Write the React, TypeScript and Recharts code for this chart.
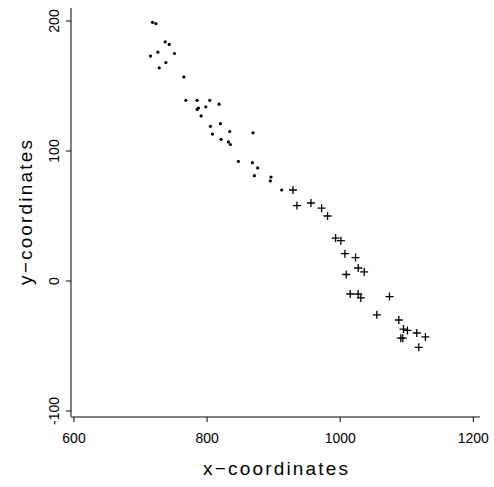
import { ScatterChart, Scatter, XAxis, YAxis } from 'recharts';

// first group (drawn as small dots)
const dotX = [
  718, 723, 737, 743, 726, 715, 751, 738, 728, 765, 768, 785, 804, 785, 787, 798,
  818, 791, 805, 820, 808, 834, 869, 821, 832, 835, 847, 868, 876, 871, 896, 895, 912,
];
const dotY = [
  199, 198, 184, 182, 176, 173, 175, 168, 164, 157, 139, 139, 139, 132, 133, 134,
  136, 127, 119, 121, 113, 115, 114, 109, 107, 105, 92, 91, 87, 81, 80, 77, 70,
];

// second group (drawn as crosses)
const plusX = [
  929, 935, 956, 972, 981, 993, 1001, 1007, 1023, 1027, 1036, 1009, 1015, 1027, 1031,
  1074, 1055, 1088, 1095, 1101, 1115, 1128, 1091, 1094, 1118,
];
const plusY = [
  70, 58, 60, 56, 50, 33, 31, 21, 18, 10, 7, 5, -10, -10, -13,
  -12, -26, -30, -37, -38, -40, -43, -44, -44, -51,
];

const xTicks = [600, 800, 1000, 1200];
const yTicks = [-100, 0, 100, 200];

const dots = dotX.map((x, i) => ({ x, y: dotY[i] }));
const pluses = plusX.map((x, i) => ({ x, y: plusY[i] }));

const FONT = '"Liberation Sans", Arial, sans-serif';

function DotShape(props: any) {
  return <circle cx={props.cx} cy={props.cy} r={1.6} fill="#000" />;
}

function PlusShape(props: any) {
  const { cx, cy } = props;
  const s = 4;
  return (
    <path
      d={`M${cx - s},${cy}H${cx + s}M${cx},${cy - s}V${cy + s}`}
      stroke="#000"
      strokeWidth={1.3}
      fill="none"
    />
  );
}

function YTick(props: any) {
  const { x, y, payload } = props;
  const bx = x - 5;
  return (
    <text
      x={bx}
      y={y}
      transform={`rotate(-90, ${bx}, ${y})`}
      textAnchor="middle"
      fontSize={14}
      fontFamily={FONT}
      fill="#000"
    >
      {payload.value}
    </text>
  );
}

function XTitle(props: any) {
  const vb = props.viewBox;
  return (
    <text
      x={vb.x + vb.width / 2}
      y={475}
      textAnchor="middle"
      fontSize={19}
      fontFamily={FONT}
      fill="#000"
      textLength={145}
    >
      x−coordinates
    </text>
  );
}

function YTitle(props: any) {
  const vb = props.viewBox;
  const cy = vb.y + vb.height / 2;
  const bx = 32;
  return (
    <text
      x={bx}
      y={cy}
      transform={`rotate(-90, ${bx}, ${cy})`}
      textAnchor="middle"
      fontSize={19}
      fontFamily={FONT}
      fill="#000"
      textLength={145}
    >
      y−coordinates
    </text>
  );
}

export default function App() {
  return (
    <div style={{ position: 'absolute', top: 0, left: 0, background: '#fff' }}>
      <ScatterChart width={494} height={487} margin={{ top: 8, right: 14, bottom: 0, left: 0 }}>
        <XAxis
          type="number"
          dataKey="x"
          domain={[595.5, 1210]}
          ticks={xTicks}
          allowDataOverflow
          height={70}
          tickSize={5}
          tickMargin={11}
          stroke="#000"
          tick={{ fill: '#000', fontSize: 14, fontFamily: FONT }}
          label={{ content: XTitle }}
        />
        <YAxis
          type="number"
          dataKey="y"
          domain={[-104.6, 210]}
          ticks={yTicks}
          allowDataOverflow
          width={71}
          tickSize={5}
          tickMargin={2}
          axisLine={{ stroke: '#808080', strokeWidth: 2 }}
          tickLine={{ stroke: '#000' }}
          tick={<YTick />}
          label={{ content: YTitle }}
        />
        <Scatter data={dots} shape={<DotShape />} isAnimationActive={false} />
        <Scatter data={pluses} shape={<PlusShape />} isAnimationActive={false} />
      </ScatterChart>
    </div>
  );
}
